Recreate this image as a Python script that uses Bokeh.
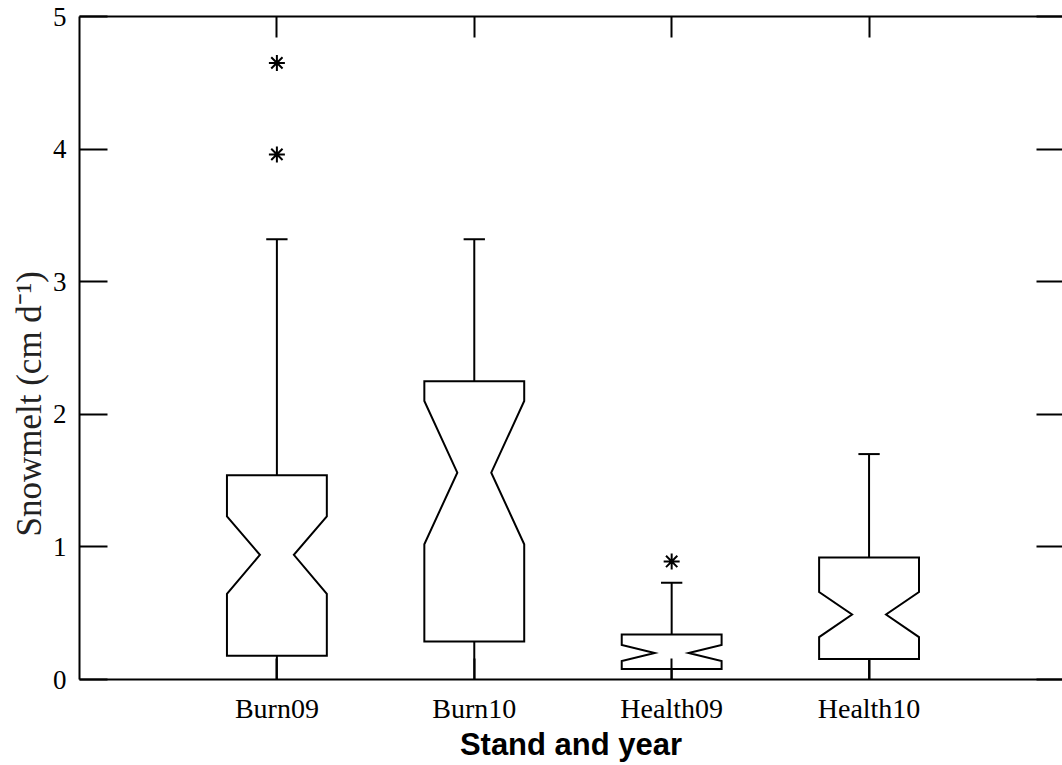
from bokeh.plotting import figure
from bokeh.models import Range1d, LinearAxis, FixedTicker, Title
from bokeh.embed import file_html
from bokeh.resources import INLINE

# ---- data ----
categories = ["Burn09", "Burn10", "Health09", "Health10"]
positions = [1, 2, 3, 4]
q1 = [0.18, 0.287, 0.08, 0.155]
notch_lo = [0.646, 1.02, 0.14, 0.32]
median = [0.94, 1.56, 0.20, 0.49]
notch_hi = [1.23, 2.10, 0.26, 0.66]
q3 = [1.54, 2.25, 0.34, 0.92]
whisker_lo = [0.0, 0.0, 0.0, 0.0]
whisker_hi = [3.32, 3.32, 0.73, 1.70]
outlier_pos = [1, 1, 3]
outlier_val = [4.65, 3.96, 0.89]
y_ticks = [0, 1, 2, 3, 4, 5]

# ---- geometry (style) ----
half_w = 0.253
notch_w = 0.086
cap_w = 0.054

serif = "Liberation Serif"

p = figure(width=1062, height=765,
           x_range=Range1d(0, 4.98), y_range=Range1d(0, 5),
           output_backend="svg", toolbar_location=None,
           min_border_left=79, min_border_top=16, min_border_right=0,
           min_border_bottom=86)
p.grid.visible = False
p.outline_line_color = None
p.background_fill_color = "white"
p.border_fill_color = "white"

# notched boxes
xs, ys = [], []
for x, a, nl, m, nh, b in zip(positions, q1, notch_lo, median, notch_hi, q3):
    xs.append([x - half_w, x + half_w, x + half_w, x + notch_w, x + half_w,
               x + half_w, x - half_w, x - half_w, x - notch_w, x - half_w])
    ys.append([a, a, nl, m, nh, b, b, nh, m, nl])
p.patches(xs, ys, fill_color="white", line_color="black", line_width=2,
          line_join="miter")

# whiskers
p.segment(x0=positions, y0=q3, x1=positions, y1=whisker_hi,
          line_color="black", line_width=2)
p.segment(x0=positions, y0=q1, x1=positions, y1=whisker_lo,
          line_color="black", line_width=2)
p.segment(x0=[x - cap_w for x in positions], y0=whisker_hi,
          x1=[x + cap_w for x in positions], y1=whisker_hi,
          line_color="black", line_width=2)

# outliers
p.scatter(outlier_pos, outlier_val, marker="asterisk", size=16,
          line_color="black", line_width=2)

# bottom axis
xa = p.xaxis[0]
xa.ticker = FixedTicker(ticks=positions)
xa.major_label_overrides = {pos: c for pos, c in zip(positions, categories)}
xa.major_tick_in = 21
xa.major_tick_out = 0
xa.minor_tick_line_color = None
xa.axis_line_width = 2
xa.major_tick_line_width = 2
xa.major_label_text_font = serif
xa.major_label_text_font_size = "28px"
xa.major_label_text_color = "black"
xa.major_label_standoff = 13
xa.axis_label = "Stand and year"
xa.axis_label_text_font = "Liberation Sans"
xa.axis_label_text_font_size = "31px"
xa.axis_label_text_font_style = "bold"
xa.axis_label_text_color = "black"
xa.axis_label_standoff = 0

# left axis
ya = p.yaxis[0]
ya.ticker = FixedTicker(ticks=y_ticks)
ya.major_tick_in = 28
ya.major_tick_out = 0
ya.minor_tick_line_color = None
ya.axis_line_width = 2
ya.major_tick_line_width = 2
ya.major_label_text_font = serif
ya.major_label_text_font_size = "27px"
ya.major_label_text_color = "black"
ya.major_label_standoff = 13

# y axis title in the left margin
ytitle = Title(text="Snowmelt (cm d\u207b\u00b9)", align="left", offset=143,
               vertical_align="middle", standoff=0,
               text_font=serif, text_font_size="35px",
               text_font_style="normal", text_color="#222222")
p.add_layout(ytitle, "left")

# top axis (ticks only)
top = LinearAxis(ticker=FixedTicker(ticks=positions))
top.major_tick_in = 21
top.major_tick_out = 0
top.minor_tick_line_color = None
top.axis_line_width = 2
top.major_tick_line_width = 2
top.major_label_text_font_size = "0px"
top.major_label_standoff = 0
p.add_layout(top, "above")

# right axis (ticks only)
right = LinearAxis(ticker=FixedTicker(ticks=y_ticks))
right.major_tick_in = 26
right.major_tick_out = 0
right.minor_tick_line_color = None
right.axis_line_color = None
right.major_tick_line_width = 2
right.major_label_text_font_size = "0px"
right.major_label_standoff = 0
p.add_layout(right, "right")

open("out.html", "w").write(file_html(p, INLINE))
